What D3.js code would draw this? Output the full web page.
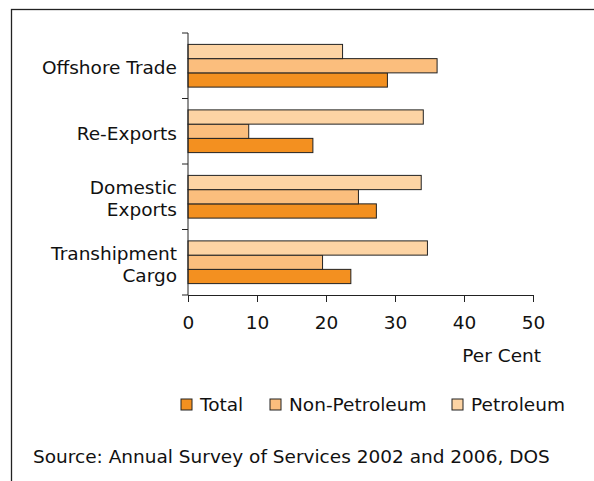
<!DOCTYPE html>
<html>
<head>
<meta charset="utf-8">
<script src="https://cdn.jsdelivr.net/npm/d3@7"></script>
<style>
  body { margin: 0; background: #fff; }
  text { font-family: "DejaVu Sans", Verdana, sans-serif; fill: #111; }
</style>
</head>
<body>
<div id="chart"></div>
<script>
// categories and series
const categories = ["Offshore Trade", "Re-Exports", "Domestic Exports", "Transhipment Cargo"];
const categoryLines = [["Offshore Trade"], ["Re-Exports"], ["Domestic", "Exports"], ["Transhipment", "Cargo"]];
const seriesNames = ["Total", "Non-Petroleum", "Petroleum"];
const total = [28.9, 18.1, 27.3, 23.6];
const nonPetroleum = [36.1, 8.8, 24.7, 19.5];
const petroleum = [22.4, 34.1, 33.8, 34.7];
const xTicks = [0, 10, 20, 30, 40, 50];

const colors = {"Total": "#f39020", "Non-Petroleum": "#fbbe7d", "Petroleum": "#fdd4a4"};
const values = {"Total": total, "Non-Petroleum": nonPetroleum, "Petroleum": petroleum};

const width = 594, height = 481;
const margin = {top: 33, right: 61, bottom: 186, left: 188};
const fs = 18.5;

const svg = d3.select("#chart").append("svg")
    .attr("width", width)
    .attr("height", height);

// outer frame (right and bottom edges run off the picture)
svg.append("rect")
    .attr("x", 11.5).attr("y", 9.5)
    .attr("width", 700).attr("height", 600)
    .attr("fill", "none")
    .attr("stroke", "#222")
    .attr("stroke-width", 1.3);

const x = d3.scaleLinear()
    .domain([0, 50])
    .range([margin.left, width - margin.right]);

const y0 = d3.scaleBand()
    .domain(categories)
    .range([margin.top, height - margin.bottom]);

// petroleum on top, total at the bottom of each group
const y1 = d3.scaleBand()
    .domain(["Petroleum", "Non-Petroleum", "Total"])
    .range([0, y0.bandwidth()])
    .paddingOuter(0.8);

const rows = [];
categories.forEach(function(c, i) {
    seriesNames.forEach(function(s) {
        rows.push({cat: c, series: s, value: values[s][i]});
    });
});

svg.append("g")
    .selectAll("rect")
    .data(rows)
    .enter().append("rect")
    .attr("x", x(0))
    .attr("y", d => y0(d.cat) + y1(d.series))
    .attr("width", d => x(d.value) - x(0))
    .attr("height", y1.bandwidth())
    .attr("fill", d => colors[d.series])
    .attr("stroke", "#222")
    .attr("stroke-width", 1);

// y axis: ticks at band boundaries
const yAxisG = svg.append("g");
yAxisG.append("line")
    .attr("x1", x(0)).attr("x2", x(0))
    .attr("y1", y0.range()[0]).attr("y2", y0.range()[1])
    .attr("stroke", "#222");
yAxisG.selectAll(".yt")
    .data(categories.concat(["end"]))
    .enter().append("line")
    .attr("x1", x(0) - 6).attr("x2", x(0))
    .attr("y1", (d, i) => y0.range()[0] + i * y0.step())
    .attr("y2", (d, i) => y0.range()[0] + i * y0.step())
    .attr("stroke", "#222");

const labels = yAxisG.selectAll(".ylab")
    .data(categories)
    .enter().append("text")
    .attr("text-anchor", "end")
    .attr("font-size", fs);
labels.each(function(d, i) {
    const lines = categoryLines[i];
    const cy = y0(d) + y0.bandwidth() / 2 + 2;
    const lh = 22;
    lines.forEach(function(t, j) {
        d3.select(this).append("tspan")
            .attr("x", x(0) - 11)
            .attr("y", cy + (j - (lines.length - 1) / 2) * lh)
            .attr("dy", "0.35em")
            .text(t);
    }, this);
});

// x axis
const xAxis = d3.axisBottom(x)
    .tickValues(xTicks)
    .tickSize(7)
    .tickSizeOuter(0)
    .tickPadding(14);
const xg = svg.append("g")
    .attr("transform", "translate(0," + (height - margin.bottom) + ")")
    .call(xAxis);
xg.selectAll("text").attr("font-size", fs).style("font-family", "DejaVu Sans").attr("fill", "#111");
xg.selectAll("line, path").attr("stroke", "#222");

svg.append("text")
    .attr("x", x(50) + 8)
    .attr("y", 362)
    .attr("text-anchor", "end")
    .attr("font-size", fs)
    .text("Per Cent");

// legend
const legendPos = [181, 270, 452];
const legend = svg.append("g");
seriesNames.forEach(function(s, i) {
    const g = legend.append("g").attr("transform", "translate(" + legendPos[i] + ",399)");
    g.append("rect")
        .attr("width", 11).attr("height", 11)
        .attr("fill", colors[s])
        .attr("stroke", "#222");
    g.append("text")
        .attr("x", 19).attr("y", 6)
        .attr("dy", "0.35em")
        .attr("font-size", fs)
        .text(s);
});

svg.append("text")
    .attr("x", 33)
    .attr("y", 463)
    .attr("font-size", fs)
    .text("Source: Annual Survey of Services 2002 and 2006, DOS");
</script>
</body>
</html>
